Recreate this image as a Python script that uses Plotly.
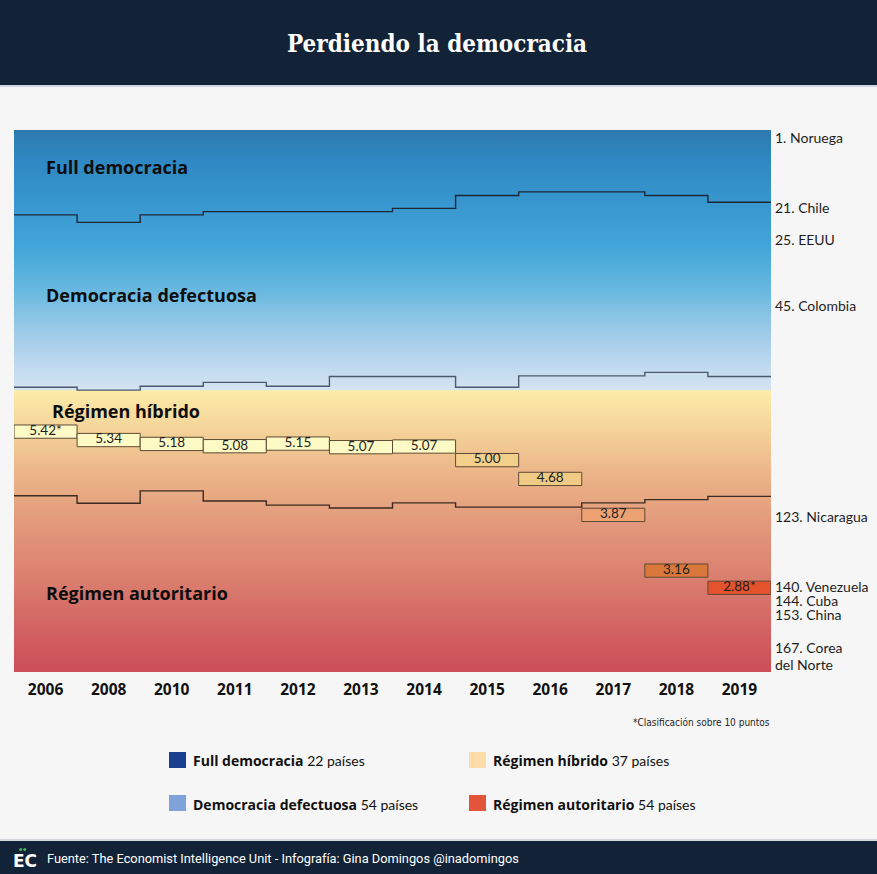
import base64
import plotly.graph_objects as go

# ---------------- data ----------------
years = ['2006', '2008', '2010', '2011', '2012', '2013', '2014', '2015', '2016', '2017', '2018', '2019']
# cumulative rank at which each regime category ends
full_limit = [26.2, 28.5, 26.2, 25.2, 25.2, 25.2, 24.2, 20.2, 19.1, 19.1, 20.2, 22.3]
flawed_limit = [79.4, 80.3, 79.1, 77.9, 79.1, 76.1, 76.1, 79.4, 75.9, 75.9, 74.8, 76.1]
hybrid_limit = [112.9, 115.2, 111.4, 114.5, 115.8, 116.7, 115.1, 116.4, 116.4, 115.1, 114.1, 113.1]
# Venezuela: rank position and score
venezuela_rank = [93.1, 95.7, 96.9, 97.6, 96.8, 97.9, 97.7, 101.9, 107.7, 118.8, 136.0, 141.3]
venezuela_score = [5.42, 5.34, 5.18, 5.08, 5.15, 5.07, 5.07, 5.00, 4.68, 3.87, 3.16, 2.88]
score_note = [True, False, False, False, False, False, False, False, False, False, False, True]
box_colors = ['#fefac6'] * 7 + ['#f2d08c', '#f0cb86', '#eda273', '#d9783a', '#e4532e']

rank_labels = ['1. Noruega', '21. Chile', '25. EEUU', '45. Colombia', '123. Nicaragua',
               '140. Venezuela', '144. Cuba', '153. China', '167. Corea', 'del Norte']
regime_labels = ['Full democracia', 'Democracia defectuosa', 'Régimen híbrido', 'Régimen autoritario']
legend_names = ['Full democracia', 'Régimen híbrido', 'Democracia defectuosa', 'Régimen autoritario']
legend_counts = ['22 países', '37 países', '54 países', '54 países']
legend_colors = ['#1b3f8f', '#fddcaa', '#7fa3d9', '#e2553a']

N_COUNTRIES = 167.3
BOX_H = 4.1

# ---------------- layout helpers (pixel -> paper) ----------------
W, H = 877, 874
PL, PR, PT, PB = 14, 771, 130, 672
def xp(x):
    return (x - PL) / (PR - PL)
def yp(y):
    return (PB - y) / (PB - PT)

FONT = 'Lato'
BOLD = 'Open Sans'
idx = list(range(len(years)))

fig = go.Figure()

# Venezuela boxes
fig.add_trace(go.Bar(
    x=idx, y=[BOX_H] * len(idx), base=[r - BOX_H / 2 for r in venezuela_rank],
    width=1, marker=dict(color=box_colors, line=dict(color='#5e4a34', width=1)),
    hoverinfo='skip', showlegend=False))
fig.add_trace(go.Scatter(
    x=idx, y=venezuela_rank, mode='text',
    text=[f'{v:.2f}' + ('*' if n else '') for v, n in zip(venezuela_score, score_note)],
    textfont=dict(family=FONT, size=13.5, color='#1e1e1e'), textposition='middle center',
    hoverinfo='skip', showlegend=False))

# boundary step lines
step_x = [-0.5] + idx + [len(idx) - 0.5]
for vals, col in [(full_limit, '#1b2838'), (flawed_limit, '#4b5a6b'), (hybrid_limit, '#3b2a22')]:
    fig.add_trace(go.Scatter(
        x=step_x, y=[vals[0]] + vals + [vals[-1]], mode='lines',
        line=dict(color=col, width=1.4, shape='hvh'), hoverinfo='skip', showlegend=False,
        cliponaxis=False))

# ---------------- gradient background ----------------
stops = [(0, '#2e79ad'), (30, '#2f88c3'), (115, '#41a5d9'), (160, '#68b8e0'), (200, '#9bcae8'),
         (240, '#c3dbef'), (260, '#d4e4f3'), (260.6, '#fdeca9'), (300, '#f4d399'),
         (340, '#ecb789'), (390, '#e39b7c'), (450, '#da7e6e'), (510, '#d15d60'), (542, '#cc4e56')]
stop_xml = ''.join(f"<stop offset='{o/542:.4f}' stop-color='{c}'/>" for o, c in stops)
svg = ("<svg xmlns='http://www.w3.org/2000/svg' width='100' height='542' viewBox='0 0 100 542' "
       "preserveAspectRatio='none'><defs><linearGradient id='g' x1='0' y1='0' x2='0' y2='1'>"
       + stop_xml + "</linearGradient></defs><rect width='100' height='542' fill='url(#g)'/></svg>")
src = 'data:image/svg+xml;base64,' + base64.b64encode(svg.encode()).decode()

shapes = []
# title bar and footer bar
shapes.append(dict(type='rect', xref='paper', yref='paper', x0=xp(-5), x1=xp(885), y0=yp(85), y1=yp(-5),
                   fillcolor='#122237', line=dict(width=0), layer='above'))
shapes.append(dict(type='line', xref='paper', yref='paper', x0=xp(-5), x1=xp(885), y0=yp(86), y1=yp(86),
                   line=dict(color='#c3cbd6', width=1.5)))
shapes.append(dict(type='line', xref='paper', yref='paper', x0=xp(-5), x1=xp(885), y0=yp(840), y1=yp(840),
                   line=dict(color='#c8ccd2', width=1.5)))
shapes.append(dict(type='rect', xref='paper', yref='paper', x0=xp(-5), x1=xp(885), y0=yp(880), y1=yp(841),
                   fillcolor='#122237', line=dict(width=0), layer='above'))
# green dots of logo
for cx in (20.7, 24.7):
    shapes.append(dict(type='circle', xref='paper', yref='paper', x0=xp(cx - 1.5), x1=xp(cx + 1.5),
                       y0=yp(851), y1=yp(848), fillcolor='#3cc04e', line=dict(width=0)))
# legend squares
legend_pos = [(169, 752), (469, 752), (169, 795), (469, 795)]
for (lx, ly), col in zip(legend_pos, legend_colors):
    shapes.append(dict(type='rect', xref='paper', yref='paper', x0=xp(lx), x1=xp(lx + 17),
                       y0=yp(ly + 16), y1=yp(ly), fillcolor=col, line=dict(width=0)))

annotations = []
annotations.append(dict(text='<b>Perdiendo la democracia</b>', xref='paper', yref='paper', x=xp(437), y=yp(44),
                        showarrow=False, xanchor='center', yanchor='middle',
                        font=dict(family='DejaVu Serif Condensed', size=24, color='white')))
# regime labels in plot
for txt, (lx, ly) in zip(regime_labels, [(44, 167), (44, 295), (50, 411), (44, 593)]):
    annotations.append(dict(text=f'<b>{txt}</b>', xref='paper', yref='paper', x=xp(lx), y=yp(ly),
                            showarrow=False, xanchor='left', yanchor='middle',
                            font=dict(family=BOLD, size=18, color='#0d0d0d')))
# rank labels on right
for txt, ly in zip(rank_labels, [137, 207, 239, 305, 516, 586, 600, 614, 647, 664]):
    annotations.append(dict(text=txt, xref='paper', yref='paper', x=xp(773), y=yp(ly),
                            showarrow=False, xanchor='left', yanchor='middle',
                            font=dict(family=FONT, size=14, color='#1e1e1e')))
annotations.append(dict(text='*Clasificación sobre 10 puntos', xref='paper', yref='paper', x=xp(772), y=yp(722),
                        showarrow=False, xanchor='right', yanchor='middle',
                        font=dict(family='DejaVu Sans Condensed', size=10, color='#1e1e1e')))
for (lx, ly), name, cnt in zip(legend_pos, legend_names, legend_counts):
    annotations.append(dict(text=f"<b>{name}</b> <span style='font-family:Lato;font-size:14px'>{cnt}</span>",
                            xref='paper', yref='paper', x=xp(lx + 22), y=yp(ly + 9),
                            showarrow=False, xanchor='left', yanchor='middle',
                            font=dict(family=BOLD, size=14, color='#111111')))
annotations.append(dict(text='<b>EC</b>', xref='paper', yref='paper', x=xp(25), y=yp(861),
                        showarrow=False, xanchor='center', yanchor='middle',
                        font=dict(family='DejaVu Sans', size=17, color='white')))
annotations.append(dict(text='Fuente: The Economist Intelligence Unit - Infografía: Gina Domingos @inadomingos',
                        xref='paper', yref='paper', x=xp(45), y=yp(858), showarrow=False,
                        xanchor='left', yanchor='middle',
                        font=dict(family='Roboto', size=12.8, color='white')))

fig.update_layout(
    width=W, height=H, margin=dict(l=PL, r=W - PR, t=PT, b=H - PB),
    paper_bgcolor='#f6f6f6', plot_bgcolor='rgba(0,0,0,0)',
    barmode='overlay', showlegend=False,
    images=[dict(source=src, xref='paper', yref='paper', x=0, y=1, sizex=1, sizey=1,
                 xanchor='left', yanchor='top', sizing='stretch', layer='below')],
    shapes=shapes, annotations=annotations,
    xaxis=dict(range=[-0.5, len(years) - 0.5], tickvals=idx, ticktext=[f'<b>{y}</b>' for y in years],
               showgrid=False, zeroline=False, showline=False, ticks='', ticklabelstandoff=6,
               tickfont=dict(family=BOLD, size=15.5, color='#111111'), fixedrange=True),
    yaxis=dict(range=[N_COUNTRIES, 0], showgrid=False, zeroline=False, showline=False,
               showticklabels=False, ticks='', fixedrange=True),
)

fig.write_html('out.html')
